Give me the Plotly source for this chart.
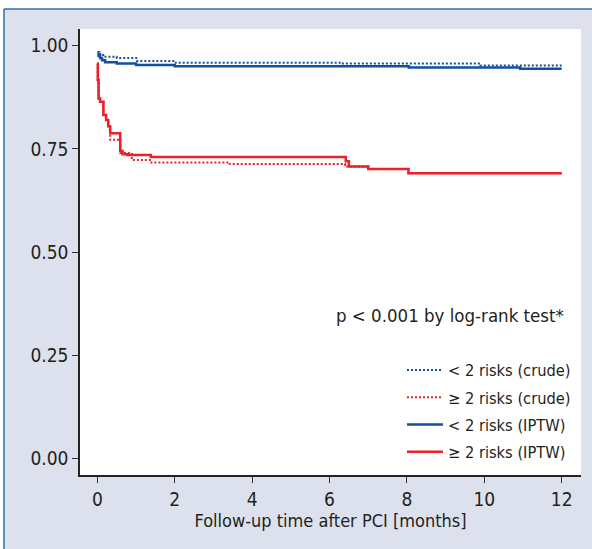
import plotly.graph_objects as go

# ---- data ----
t_blue_iptw = [0, 0.03, 0.07, 0.12, 0.2, 0.5, 1.0, 2.0, 8.05, 10.93, 12]
s_blue_iptw = [0.980, 0.975, 0.970, 0.965, 0.960, 0.957, 0.953, 0.950, 0.947, 0.944, 0.944]

t_blue_crude = [0, 0.05, 0.15, 0.5, 1.03, 1.96, 6.3, 9.9, 12]
s_blue_crude = [0.985, 0.980, 0.973, 0.970, 0.963, 0.959, 0.957, 0.952, 0.952]

t_red_iptw = [0, 0.01, 0.03, 0.07, 0.155, 0.225, 0.28, 0.33, 0.59, 0.65, 0.77, 1.38, 6.42, 6.5, 7.0, 8.04, 12]
s_red_iptw = [0.957, 0.917, 0.872, 0.864, 0.832, 0.820, 0.805, 0.788, 0.745, 0.737, 0.735, 0.730, 0.720, 0.707, 0.701, 0.691, 0.691]

t_red_crude = [0, 0.01, 0.03, 0.07, 0.155, 0.225, 0.28, 0.33, 0.59, 0.89, 1.36, 3.42, 6.4, 7.0, 8.04, 12]
s_red_crude = [0.957, 0.917, 0.872, 0.864, 0.832, 0.820, 0.805, 0.772, 0.740, 0.723, 0.717, 0.713, 0.707, 0.701, 0.691, 0.691]

x_ticks = [0, 2, 4, 6, 8, 10, 12]
y_ticks = [0.00, 0.25, 0.50, 0.75, 1.00]
y_tick_labels = ["0.00", "0.25", "0.50", "0.75", "1.00"]

names = ["< 2 risks (crude)", "≥ 2 risks (crude)", "< 2 risks (IPTW)", "≥ 2 risks (IPTW)"]

BLUE = "#124f9e"
RED = "#ee1f26"
FONT = "DejaVu Sans Condensed, Liberation Sans Narrow, sans-serif"
TXT = "#231f20"

fig = go.Figure()
series = [
    (t_blue_crude, s_blue_crude, BLUE, "2px,2px", 2, names[0]),
    (t_red_crude, s_red_crude, RED, "2px,2px", 2, names[1]),
    (t_blue_iptw, s_blue_iptw, BLUE, "solid", 2.5, names[2]),
    (t_red_iptw, s_red_iptw, RED, "solid", 2.5, names[3]),
]
for i, (t, s, c, d, w, n) in enumerate(series):
    fig.add_trace(go.Scatter(
        x=t, y=s, mode="lines", name=n, legendgroup=f"g{i}",
        line=dict(color=c, dash=d, width=w, shape="hv"),
    ))

L, R, T, B = 80, 11, 29, 74
W, H = 592, 549
pw, ph = W - L - R, H - T - B

def px(x):
    return (x - L) / pw

def py(y):
    return (H - B - y) / ph

FRAME = "#2f6cb0"
fig.update_layout(
    width=W, height=H,
    margin=dict(l=L, r=R, t=T, b=B, pad=0),
    paper_bgcolor="white", plot_bgcolor="white",
    font=dict(family=FONT, color=TXT, size=18),
    shapes=[
        dict(type="rect", xref="paper", yref="paper",
             x0=px(4), x1=px(592), y0=py(549), y1=py(9),
             fillcolor="#dde1ee", line=dict(width=0), layer="below"),
        dict(type="line", xref="paper", yref="paper",
             x0=px(4), x1=px(592), y0=py(9), y1=py(9),
             line=dict(color=FRAME, width=1.5), layer="below"),
        dict(type="line", xref="paper", yref="paper",
             x0=px(4), x1=px(4), y0=py(549), y1=py(9),
             line=dict(color=FRAME, width=1.5), layer="below"),
        dict(type="rect", xref="paper", yref="paper",
             x0=0, x1=1, y0=0, y1=1,
             fillcolor="white", line=dict(width=0), layer="below"),
    ],
    xaxis=dict(
        range=[-0.45, 12.5], tickvals=x_ticks, ticks="outside", ticklen=6,
        tickcolor="#333", tickwidth=1.2, showline=True, linecolor="#222", linewidth=1.5,
        showgrid=False, zeroline=False, tickfont=dict(size=19, family=FONT, color=TXT),
        title=dict(text="Follow-up time after PCI [months]", font=dict(size=18, family=FONT, color=TXT), standoff=6),
    ),
    yaxis=dict(
        range=[-0.0405, 1.0405], tickvals=y_ticks, ticktext=y_tick_labels, ticks="outside", ticklen=6,
        tickcolor="#333", tickwidth=1.2, showline=True, linecolor="#222", linewidth=1.5,
        showgrid=False, zeroline=False, tickfont=dict(size=19, family=FONT, color=TXT),
    ),
    legend=dict(
        x=px(576), xanchor="right", y=py(353), yanchor="top",
        bgcolor="rgba(0,0,0,0)", borderwidth=0,
        font=dict(size=16.3, family=FONT, color=TXT),
        tracegroupgap=3, traceorder="grouped", itemwidth=36,
    ),
    showlegend=True,
    annotations=[dict(
        text="p < 0.001 by log-rank test*", xref="paper", yref="paper",
        x=px(566), y=py(315), xanchor="right", yanchor="middle", showarrow=False,
        font=dict(size=18.5, family=FONT, color=TXT),
    )],
)

fig.write_html(
    "out.html",
    config={"displayModeBar": False},
    post_script="document.body.style.margin='0';document.body.style.overflow='hidden';",
)
